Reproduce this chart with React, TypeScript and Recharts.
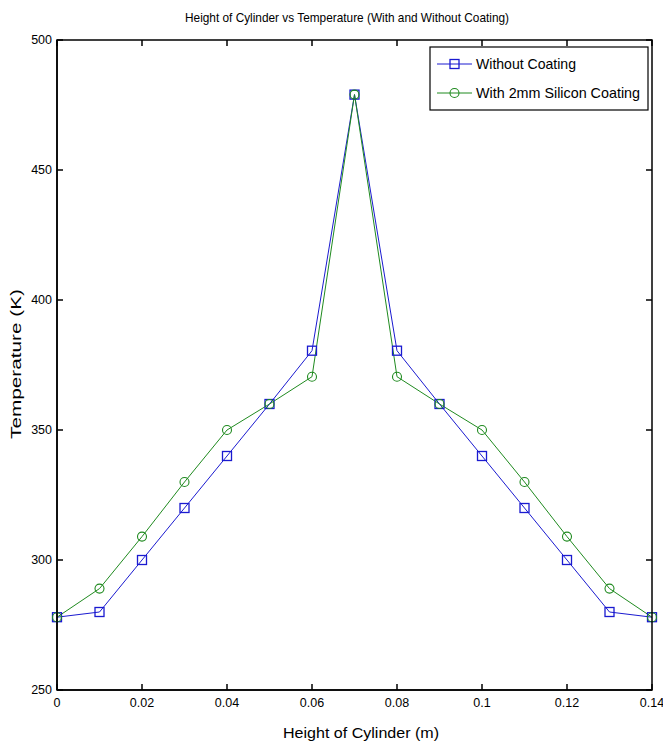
import React from "react";
import { LineChart, Line, XAxis, YAxis } from "recharts";

const heights = [0, 0.01, 0.02, 0.03, 0.04, 0.05, 0.06, 0.07, 0.08, 0.09, 0.1, 0.11, 0.12, 0.13, 0.14];
const withoutCoating = [278, 280, 300, 320, 340, 360, 380.5, 479, 380.5, 360, 340, 320, 300, 280, 278];
const withCoating = [278, 289, 309, 330, 350, 360, 370.5, 479, 370.5, 360, 350, 330, 309, 289, 278];
const xTicks = [0, 0.02, 0.04, 0.06, 0.08, 0.1, 0.12, 0.14];
const yTicks = [250, 300, 350, 400, 450, 500];

const data = heights.map((h, i) => ({ h, a: withoutCoating[i], b: withCoating[i] }));

const FONT = "'Liberation Sans', Arial, sans-serif";
const BLUE = "#1a1ad0";
const GREEN = "#1f8a1f";
const TICK = 6;

// plot box layout
const W = 663;
const H = 744;
const M_TOP = 40;
const M_RIGHT = 11;
const Y_AXIS_W = 57;
const X_AXIS_H = 54;
const PLOT_W = W - Y_AXIS_W - M_RIGHT;
const PLOT_H = H - M_TOP - X_AXIS_H;

const BottomTick = (p: any) => (
  <g>
    <line x1={p.x} y1={p.y} x2={p.x} y2={p.y - TICK} stroke="#000" strokeWidth={1.5} />
    <line x1={p.x} y1={p.y - PLOT_H} x2={p.x} y2={p.y - PLOT_H + TICK} stroke="#000" strokeWidth={1.5} />
    <text x={p.x} y={p.y + 17} textAnchor="middle" fontSize={12.5} fontFamily={FONT} fill="#000">
      {String(p.payload.value)}
    </text>
  </g>
);
const LeftTick = (p: any) => (
  <g>
    <line x1={p.x} y1={p.y} x2={p.x + TICK} y2={p.y} stroke="#000" strokeWidth={1.5} />
    <line x1={p.x + PLOT_W} y1={p.y} x2={p.x + PLOT_W - TICK} y2={p.y} stroke="#000" strokeWidth={1.5} />
    <text x={p.x - 5} y={p.y + 4} textAnchor="end" fontSize={12.5} fontFamily={FONT} fill="#000">
      {String(p.payload.value)}
    </text>
  </g>
);

const SquareDot = (p: any) => (
  <rect x={p.cx - 4.5} y={p.cy - 4.5} width={9} height={9} fill="none" stroke={BLUE} strokeWidth={1.3} />
);
const CircleDot = (p: any) => (
  <circle cx={p.cx} cy={p.cy} r={4.5} fill="none" stroke={GREEN} strokeWidth={1.1} />
);

export default function App() {
  return (
    <div style={{ position: "absolute", left: 0, top: 0, width: W, height: H, background: "#fff" }}>
      <div style={{ position: "absolute", left: 0, top: 0 }}>
        <LineChart width={W} height={H} data={data} margin={{ top: M_TOP, right: M_RIGHT, bottom: 0, left: 0 }}>
          <XAxis
            dataKey="h"
            type="number"
            domain={[0, 0.14]}
            ticks={xTicks}
            height={X_AXIS_H}
            tickSize={0}
            tickMargin={0}
            tickLine={false}
            axisLine={{ stroke: "#000", strokeWidth: 1.5 }}
            tick={<BottomTick />}
            interval={0}
          />
          <YAxis
            type="number"
            domain={[250, 500]}
            ticks={yTicks}
            width={Y_AXIS_W}
            tickSize={0}
            tickMargin={0}
            tickLine={false}
            axisLine={{ stroke: "#000", strokeWidth: 1.5 }}
            tick={<LeftTick />}
            interval={0}
          />
          <Line dataKey="a" stroke={BLUE} strokeWidth={1} dot={<SquareDot />} activeDot={false} isAnimationActive={false} />
          <Line dataKey="b" stroke={GREEN} strokeWidth={1} dot={<CircleDot />} activeDot={false} isAnimationActive={false} />
        </LineChart>
      </div>
      <svg width={W} height={H} style={{ position: "absolute", left: 0, top: 0, pointerEvents: "none" }}>
        <rect x={Y_AXIS_W} y={M_TOP} width={PLOT_W} height={PLOT_H} fill="none" stroke="#000" strokeWidth={1.5} />
        <text x={347} y={22} textAnchor="middle" fontSize={13} fontFamily={FONT} fill="#000" textLength={324} lengthAdjust="spacingAndGlyphs">
          Height of Cylinder vs Temperature (With and Without Coating)
        </text>
        <text x={361} y={738} textAnchor="middle" fontSize={15.5} fontFamily={FONT} fill="#000" textLength={156} lengthAdjust="spacingAndGlyphs">
          Height of Cylinder (m)
        </text>
        <text transform="translate(21,364) rotate(-90)" textAnchor="middle" fontSize={15} fontFamily={FONT} fill="#000" textLength={150} lengthAdjust="spacingAndGlyphs">
          Temperature (K)
        </text>
        <g>
          <rect x={430} y={47} width={218} height={63} fill="#fff" stroke="#000" strokeWidth={1.2} />
          <line x1={437} y1={64} x2={472} y2={64} stroke={BLUE} strokeWidth={1} />
          <rect x={450} y={59.5} width={9} height={9} fill="none" stroke={BLUE} strokeWidth={1.3} />
          <text x={476} y={69} fontSize={14.5} fontFamily={FONT} fill="#000" textLength={100} lengthAdjust="spacingAndGlyphs">Without Coating</text>
          <line x1={437} y1={93} x2={472} y2={93} stroke={GREEN} strokeWidth={1} />
          <circle cx={454.5} cy={93} r={4.5} fill="none" stroke={GREEN} strokeWidth={1.1} />
          <text x={476} y={98} fontSize={14.5} fontFamily={FONT} fill="#000" textLength={164} lengthAdjust="spacingAndGlyphs">With 2mm Silicon Coating</text>
        </g>
      </svg>
    </div>
  );
}
